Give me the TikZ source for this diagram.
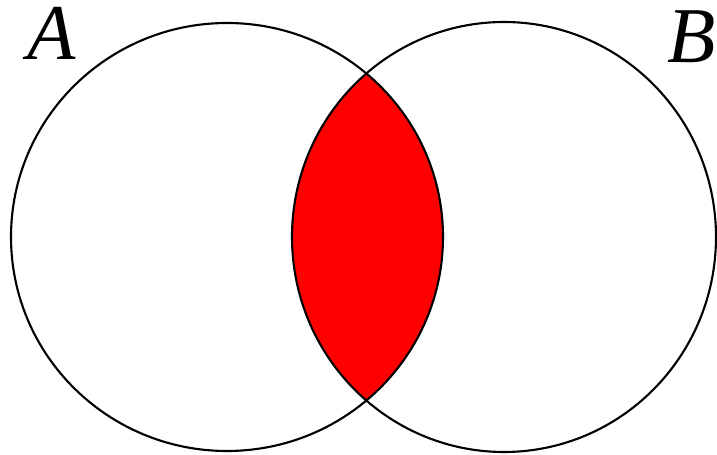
\documentclass[tikz,border=0pt]{standalone}
\usepackage{fontspec}
\setmainfont{Liberation Serif}
\usetikzlibrary{positioning}
\tikzset{
    % Sets
    setline/.style={draw=black, line width=1.2pt},
    setfill/.style={fill=red},
    % Labels
    setlbl/.style={inner sep=0pt, anchor=base west, font=\fontsize{45}{45}\selectfont\itshape}
}

\begin{document}
\begin{tikzpicture}[x=0.02cm, y=-0.02cm]

\useasboundingbox (0,0) rectangle (717,455);

\coordinate (cA) at (227,237);
\coordinate (cB) at (504,237);

% intersection
\begin{scope}
  \clip (cA) ellipse [x radius=216, y radius=214];
  \fill[setfill] (cB) ellipse [x radius=212, y radius=215];
\end{scope}

\draw[setline] (cA) ellipse [x radius=216, y radius=214];
\draw[setline] (cB) ellipse [x radius=212, y radius=215];

\node[setlbl] (lblA) at (27,60) {A};
\node[setlbl] (lblB) at (667,63) {B};

\end{tikzpicture}
\end{document}
